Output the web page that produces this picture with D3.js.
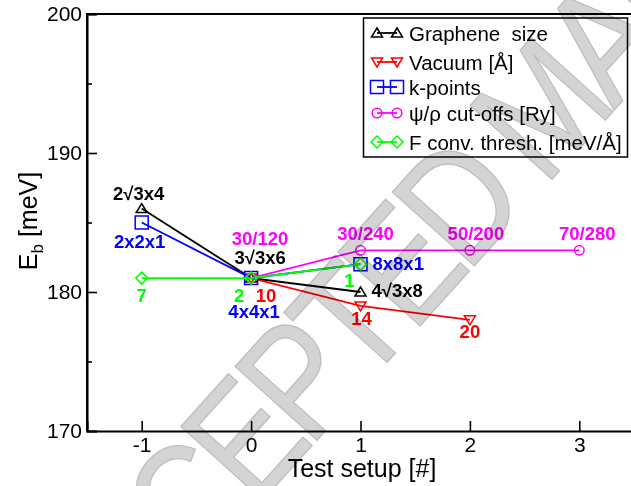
<!DOCTYPE html>
<html>
<head>
<meta charset="utf-8">
<script src="https://cdn.jsdelivr.net/npm/d3@7"></script>
<style>
  body { margin: 0; background: #fff; }
  svg { display: block; font-family: "Liberation Sans", Arial, sans-serif; }
</style>
</head>
<body>
<svg id="chart" width="631" height="486"></svg>
<script>
// convergence tests, binding energy vs test setup

var xTicks = [-1, 0, 1, 2, 3];
var yTicks = [170, 180, 190, 200];
var yMinor = [175, 185, 195];

var graphX = [-1, 0, 1], graphY = [186, 181, 180];
var graphLabels = ["2\u221A3x4", "3\u221A3x6", "4\u221A3x8"];
var vacX = [0, 1, 2], vacY = [181, 179, 178];
var vacLabels = ["10", "14", "20"];
var kX = [-1, 0, 1], kY = [185, 181, 182];
var kLabels = ["2x2x1", "4x4x1", "8x8x1"];
var cutX = [0, 1, 2, 3], cutY = [181, 183, 183, 183];
var cutLabels = ["30/120", "30/240", "50/200", "70/280"];
var fX = [-1, 0, 1], fY = [181, 181, 182];
var fLabels = ["7", "2", "1"];

var seriesNames = ["Graphene  size", "Vacuum [\u00C5]", "k-points",
  "\u03C8/\u03C1 cut-offs [Ry]", "F conv. thresh. [meV/\u00C5]"];

// label placement offsets (pixels) for each point label
var series = [
  {name: seriesNames[0], xs: graphX, ys: graphY, labels: graphLabels, color: "#000000", sym: "tri",
   off: [[-3, -9, "middle"], [9, -14, "middle"], [11, 5, "start"]]},
  {name: seriesNames[1], xs: vacX, ys: vacY, labels: vacLabels, color: "#ff0000", sym: "tridown",
   off: [[15, 24, "middle"], [1, 19, "middle"], [0, 18, "middle"]]},
  {name: seriesNames[2], xs: kX, ys: kY, labels: kLabels, color: "#0000ff", sym: "square",
   off: [[-2, 25, "middle"], [3, 40, "middle"], [12, 6, "start"]]},
  {name: seriesNames[3], xs: cutX, ys: cutY, labels: cutLabels, color: "#ff00ff", sym: "circle",
   off: [[9, -33, "middle"], [5, -10, "middle"], [6, -10, "middle"], [8, -10, "middle"]]},
  {name: seriesNames[4], xs: fX, ys: fY, labels: fLabels, color: "#00ff00", sym: "diamond",
   off: [[0, 24, "middle"], [-12, 24, "middle"], [-11, 23, "middle"]]}
];

var svg = d3.select("#chart");
var plotLeft = 87, plotRight = 634, plotTop = 14, plotBottom = 431;

var x = d3.scaleLinear().domain([-1.5, 3.5]).range([plotLeft, plotRight]);
var y = d3.scaleLinear().domain([170, 200]).range([plotBottom, plotTop]);

function symPath(sym) {
  if (sym == "tri") return "M0,-5L5.5,4L-5.5,4Z";
  if (sym == "tridown") return "M0,5L5.5,-4L-5.5,-4Z";
  if (sym == "square") return "M-6.5,-6.5H6.5V6.5H-6.5Z";
  if (sym == "diamond") return "M0,-6L6,0L0,6L-6,0Z";
  return d3.arc()({innerRadius: 0, outerRadius: 4.8, startAngle: 0, endAngle: 2 * Math.PI});
}

// frame (right side falls outside the window)
svg.append("path")
  .attr("d", "M" + plotLeft + "," + plotBottom + "V" + plotTop + "H" + plotRight)
  .attr("fill", "none").attr("stroke", "#000").attr("stroke-width", 2);

var xAxis = svg.append("g")
  .attr("transform", "translate(0," + plotBottom + ")")
  .call(d3.axisBottom(x).tickValues(xTicks).tickSize(-10).tickPadding(6)
    .tickFormat(function(d) { return String(d); }));
var yAxis = svg.append("g")
  .attr("transform", "translate(" + plotLeft + ",0)")
  .call(d3.axisLeft(y).tickValues(yTicks).tickSize(-10).tickPadding(5)
    .tickFormat(function(d) { return String(d); }));
svg.append("g")
  .attr("transform", "translate(" + plotLeft + ",0)")
  .call(d3.axisLeft(y).tickValues(yMinor).tickSize(-5).tickFormat(""))
  .select(".domain").remove();

svg.selectAll(".domain").attr("stroke-width", 2).attr("stroke", "#000");
svg.selectAll(".tick line").attr("stroke-width", 1.6).attr("stroke", "#000");
svg.selectAll(".tick text").attr("font-size", 21).attr("fill", "#000")
  .attr("font-family", "Liberation Sans, Arial, sans-serif");
xAxis.selectAll(".tick text").attr("dy", "0.71em");

svg.append("text")
  .attr("x", 362).attr("y", 477)
  .attr("text-anchor", "middle").attr("font-size", 25)
  .text("Test setup [#]");

var ylab = svg.append("text")
  .attr("transform", "translate(37,221) rotate(-90)")
  .attr("text-anchor", "middle").attr("font-size", 25);
ylab.append("tspan").text("E");
ylab.append("tspan").attr("font-size", 17).attr("dy", 6).text("b");
ylab.append("tspan").attr("dy", -6).text(" [meV]");

// lines + markers
series.forEach(function(s) {
  var pts = s.xs.map(function(v, i) { return [v, s.ys[i]]; });
  svg.append("path")
    .datum(pts)
    .attr("d", d3.line().x(function(d) { return x(d[0]); }).y(function(d) { return y(d[1]); }))
    .attr("fill", "none")
    .attr("stroke", s.color)
    .attr("stroke-width", 1.8);

  svg.selectAll(null).data(pts).enter().append("path")
    .attr("d", symPath(s.sym))
    .attr("transform", function(d) { return "translate(" + x(d[0]) + "," + y(d[1]) + ")"; })
    .attr("fill", "none")
    .attr("stroke", s.color)
    .attr("stroke-width", 1.5);
});

// point labels
series.forEach(function(s) {
  svg.selectAll(null).data(s.labels).enter().append("text")
    .attr("x", function(d, i) { return x(s.xs[i]) + s.off[i][0]; })
    .attr("y", function(d, i) { return y(s.ys[i]) + s.off[i][1]; })
    .attr("text-anchor", function(d, i) { return s.off[i][2]; })
    .attr("font-size", 18.5)
    .attr("font-weight", "bold")
    .attr("fill", s.color)
    .text(function(d) { return d; });
});

// legend
var legend = svg.append("g");
legend.append("rect")
  .attr("x", 363.5).attr("y", 18).attr("width", 264).attr("height", 139)
  .attr("fill", "#fff").attr("stroke", "#000").attr("stroke-width", 1.5);
var rowY = [33, 62, 87, 113, 142];
series.forEach(function(s, i) {
  var g = legend.append("g").attr("transform", "translate(0," + rowY[i] + ")");
  g.append("line").attr("x1", 377).attr("x2", 397).attr("y1", 0).attr("y2", 0)
    .attr("stroke", s.color).attr("stroke-width", 1.8);
  [377, 397].forEach(function(px) {
    g.append("path").attr("d", symPath(s.sym))
      .attr("transform", "translate(" + px + ",0)")
      .attr("fill", "none").attr("stroke", s.color).attr("stroke-width", 1.5);
  });
  g.append("text").attr("x", 409).attr("y", 7.5)
    .attr("font-size", 20.5).attr("fill", "#000")
    .style("white-space", "pre")
    .text(s.name);
});

// manuscript watermark over the figure
svg.append("text")
  .attr("transform", "translate(83,700) rotate(-48) scale(0.85,1)")
  .attr("font-size", 160)
  .attr("textLength", 1765)
  .attr("lengthAdjust", "spacing")
  .attr("fill", "#cacaca")
  .attr("stroke", "#b0b0b0")
  .attr("stroke-width", 1.5)
  .style("mix-blend-mode", "multiply")
  .attr("opacity", 0.8)
  .text("ACCEPTED MANUSCRIPT");
</script>
</body>
</html>
